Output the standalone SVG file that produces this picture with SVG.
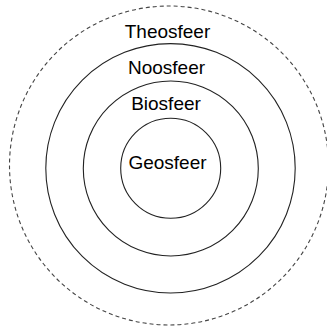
<svg xmlns="http://www.w3.org/2000/svg" width="327" height="331" viewBox="0 0 327 331">
<style>
.ring{fill:none;stroke:#222;stroke-width:1.1}
.outer{fill:none;stroke:#444;stroke-width:1.1;stroke-dasharray:4 3}
.lbl{font-family:"Liberation Sans",Arial,sans-serif;font-size:19px;fill:#000;text-anchor:middle}
</style>
<rect width="327" height="331" fill="#fff"/>
<g id="theosfeer"><circle class="outer" cx="169" cy="165.5" r="159.5"/><text class="lbl" x="167.5" y="37.5">Theosfeer</text></g>
<g id="noosfeer"><circle class="ring" cx="170.5" cy="168.3" r="124.7"/><text class="lbl" x="166.5" y="74">Noosfeer</text></g>
<g id="biosfeer"><circle class="ring" cx="170.8" cy="168.5" r="87.5"/><text class="lbl" x="166" y="110">Biosfeer</text></g>
<g id="geosfeer"><circle class="ring" cx="170.7" cy="168.3" r="50"/><text class="lbl" x="167.5" y="168.5">Geosfeer</text></g>
<g id="connectors"/>
</svg>
